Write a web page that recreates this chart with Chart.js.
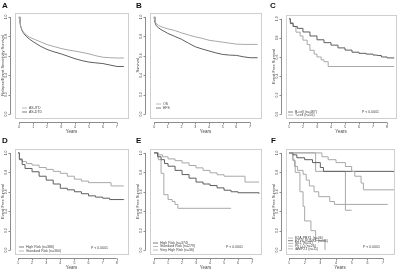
<!DOCTYPE html>
<html><head><meta charset="utf-8">
<script src="https://cdn.jsdelivr.net/npm/chart.js@4/dist/chart.umd.min.js"></script>
<style>
html,body{margin:0;padding:0;background:#fff;}
body{width:400px;height:269px;overflow:hidden;position:relative;}
.p{position:absolute;}
canvas{display:block;}
</style></head><body>
<div class="p" style="left:0;top:0"><canvas id="cA" width="133" height="134"></canvas></div>
<div class="p" style="left:133px;top:0"><canvas id="cB" width="133" height="134"></canvas></div>
<div class="p" style="left:266px;top:0"><canvas id="cC" width="134" height="134"></canvas></div>
<div class="p" style="left:0;top:134px"><canvas id="cD" width="133" height="135"></canvas></div>
<div class="p" style="left:133px;top:134px"><canvas id="cE" width="133" height="135"></canvas></div>
<div class="p" style="left:266px;top:134px"><canvas id="cF" width="134" height="135"></canvas></div>
<script>
// ---------- tick labels ----------
const survivalTicks = [0, 0.2, 0.4, 0.6, 0.8, 1.0];
const survivalTickLabels = ['0.0', '0.2', '0.4', '0.6', '0.8', '1.0'];
const yearTicks0to7 = [0, 1, 2, 3, 4, 5, 6, 7];
const yearTicks1to8 = [1, 2, 3, 4, 5, 6, 7, 8];
const yearTicks1to7 = [1, 2, 3, 4, 5, 6, 7];

// ---------- Panel A ----------
const aLabels = ['AS-ITD', 'AS-DTD'];
const aYearsUpper = [0, 0.05, 0.1, 0.2, 0.3, 0.5, 0.75, 1, 1.5, 2, 2.5, 3, 3.5, 4, 4.5, 5, 5.5, 6, 6.5, 7, 7.5];
const aSurvUpper  = [1.0, 0.95, 0.91, 0.87, 0.845, 0.815, 0.79, 0.775, 0.745, 0.715, 0.695, 0.675, 0.66, 0.648, 0.635, 0.62, 0.60, 0.585, 0.58, 0.577, 0.577];
const aYearsLower = [0, 0.05, 0.1, 0.2, 0.3, 0.5, 0.75, 1, 1.5, 2, 2.5, 3, 3.5, 4, 4.5, 5, 5.5, 6, 6.5, 7, 7.5];
const aSurvLower  = [1.0, 0.95, 0.905, 0.86, 0.835, 0.80, 0.77, 0.745, 0.70, 0.665, 0.64, 0.62, 0.595, 0.57, 0.55, 0.535, 0.527, 0.52, 0.505, 0.49, 0.49];

// ---------- Panel B ----------
const bLabels = ['OS', 'EFS'];
const bYearsOS  = [0, 0.05, 0.15, 0.3, 0.5, 1, 1.5, 2, 2.5, 3, 3.5, 4, 4.5, 5, 5.5, 6, 6.5, 7, 7.55];
const bSurvOS   = [1.0, 0.96, 0.93, 0.915, 0.90, 0.877, 0.86, 0.836, 0.815, 0.795, 0.78, 0.76, 0.75, 0.74, 0.73, 0.72, 0.717, 0.717, 0.717];
const bYearsEFS = [0, 0.05, 0.15, 0.3, 0.5, 1, 1.5, 2, 2.5, 3, 3.5, 4, 4.5, 5, 5.5, 6, 6.5, 7, 7.55];
const bSurvEFS  = [1.0, 0.95, 0.91, 0.89, 0.87, 0.83, 0.80, 0.77, 0.73, 0.693, 0.67, 0.65, 0.63, 0.614, 0.607, 0.604, 0.59, 0.58, 0.58];

// ---------- Panel C ----------
const cLabels = ['B-cell (n=487)', 'T-cell (n=56)'];
const cYearsB = [1, 1.1, 1.3, 1.6, 2, 2.5, 3, 3.5, 4, 4.5, 5, 5.5, 6, 6.5, 7, 7.3, 7.6, 8, 8.5];
const cSurvB  = [1.0, 0.95, 0.92, 0.90, 0.862, 0.82, 0.78, 0.75, 0.724, 0.695, 0.672, 0.65, 0.638, 0.63, 0.62, 0.615, 0.60, 0.59, 0.586];
const cYearsT = [1, 1.1, 1.3, 1.5, 1.8, 2, 2.3, 2.5, 2.8, 3, 3.3, 3.5, 3.8, 8.5];
const cSurvT  = [1.0, 0.96, 0.92, 0.86, 0.82, 0.776, 0.73, 0.67, 0.63, 0.60, 0.57, 0.55, 0.50, 0.50];

// ---------- Panel D ----------
const dLabels = ['High Risk (n=386)', 'Standard Risk (n=360)'];
const dYearsHigh = [1, 1.1, 1.3, 1.5, 2, 2.5, 3, 3.5, 4, 4.5, 5, 5.5, 6, 6.5, 7, 7.5, 8.5];
const dSurvHigh  = [1.0, 0.93, 0.88, 0.84, 0.806, 0.76, 0.72, 0.68, 0.636, 0.62, 0.60, 0.58, 0.558, 0.545, 0.534, 0.52, 0.517];
const dYearsStd  = [1, 1.1, 1.3, 1.6, 2, 2.5, 3, 3.5, 4, 4.5, 5, 5.5, 6, 7.6, 8.5];
const dSurvStd   = [1.0, 0.94, 0.91, 0.89, 0.874, 0.85, 0.83, 0.81, 0.79, 0.76, 0.73, 0.71, 0.694, 0.66, 0.66];

// ---------- Panel E ----------
const eLabels = ['High Risk (n=374)', 'Standard Risk (n=279)', 'Very High Risk (n=36)'];
const eYearsHigh = [0, 0.25, 0.5, 0.75, 1, 1.5, 2, 2.5, 3, 3.5, 4, 4.5, 5, 5.5, 6, 7.5];
const eSurvHigh  = [1.0, 0.96, 0.93, 0.89, 0.863, 0.82, 0.777, 0.74, 0.70, 0.68, 0.664, 0.64, 0.616, 0.60, 0.59, 0.58];
const eYearsStd  = [0, 0.3, 0.6, 1, 1.5, 2, 2.5, 3, 3.5, 4, 4.5, 5, 6.5, 7.5];
const eSurvStd   = [1.0, 0.98, 0.96, 0.938, 0.92, 0.897, 0.87, 0.846, 0.82, 0.795, 0.775, 0.76, 0.70, 0.70];
const eYearsVery = [0, 0.3, 0.5, 0.7, 1, 1.3, 1.5, 1.7, 5.5];
const eSurvVery  = [1.0, 0.93, 0.79, 0.57, 0.52, 0.50, 0.47, 0.43, 0.43];

// ---------- Panel F ----------
const fLabels = ['E2A-PBX1 (n=46)', 'ETV6-RUNX1 (n=46)', 'MLL (n=11)', 'Ph (+) (n=26)', 'iAMP21 (n=11)'];
const fYears1 = [1, 2.7, 3.1, 3.5, 4.0, 4.6, 5.0, 5.2, 5.6, 5.75, 7.7];
const fSurv1  = [1.0, 1.0, 0.96, 0.93, 0.90, 0.86, 0.81, 0.76, 0.69, 0.62, 0.62];
const fYears2 = [1, 1.25, 1.5, 2.0, 2.5, 3.0, 3.2, 7.7];
const fSurv2  = [1.0, 0.98, 0.95, 0.93, 0.90, 0.85, 0.81, 0.81];
const fYears3 = [1, 1.25, 1.35, 1.55, 1.9, 2.1, 2.3, 2.6, 2.9, 3.6, 3.9, 7.3];
const fSurv3  = [1.0, 0.93, 0.86, 0.82, 0.78, 0.72, 0.66, 0.60, 0.55, 0.50, 0.47, 0.47];
const fYears4 = [1, 1.25, 1.4, 1.7, 1.9, 2.0, 2.4, 2.7, 3.3];
const fSurv4  = [1.0, 0.92, 0.80, 0.60, 0.45, 0.30, 0.20, 0.10, 0.0];
const fYears5 = [1, 2.7, 4.6, 5.0];
const fSurv5  = [1.0, 0.81, 0.41, 0.41];

const DARK = '#5e5e5e', LIGHT = '#a8a8a8';
const FONT = '"Liberation Sans", Arial, sans-serif';

function pts(xs, ys) { return xs.map((x, i) => ({ x: x, y: ys[i] })); }

const rStyle = {
  id: 'rStyle',
  afterDraw(chart, args, o) {
    const ctx = chart.ctx, a = chart.chartArea, xs = chart.scales.x, ys = chart.scales.y;
    ctx.save();
    // plot box
    ctx.strokeStyle = '#cfcfcf'; ctx.lineWidth = 1;
    ctx.strokeRect(Math.round(a.left) + 0.5, Math.round(a.top) + 0.5, Math.round(a.right - a.left), Math.round(a.bottom - a.top));
    // x axis
    const xt = o.xTicks;
    const ay = Math.round(a.bottom) + 4.5;
    ctx.strokeStyle = '#8c8c8c';
    ctx.beginPath();
    ctx.moveTo(xs.getPixelForValue(xt[0]), ay);
    ctx.lineTo(xs.getPixelForValue(xt[xt.length - 1]), ay);
    xt.forEach(v => { const px = Math.round(xs.getPixelForValue(v)) + 0.5; ctx.moveTo(px, ay); ctx.lineTo(px, ay + 2); });
    ctx.stroke();
    ctx.fillStyle = '#444';
    ctx.font = '3.5px ' + FONT; ctx.textAlign = 'center'; ctx.textBaseline = 'middle';
    xt.forEach(v => ctx.fillText(String(v), xs.getPixelForValue(v), ay + 4.5));
    ctx.font = '4.5px ' + FONT;
    ctx.fillText('Years', (a.left + a.right) / 2, ay + 9.5);
    // y axis
    const ax = Math.round(a.left) - 4.5;
    ctx.beginPath();
    ctx.moveTo(ax, ys.getPixelForValue(survivalTicks[0]));
    ctx.lineTo(ax, ys.getPixelForValue(survivalTicks[survivalTicks.length - 1]));
    survivalTicks.forEach(v => { const py = Math.round(ys.getPixelForValue(v)) + 0.5; ctx.moveTo(ax, py); ctx.lineTo(ax - 2, py); });
    ctx.stroke();
    ctx.font = '3.5px ' + FONT;
    survivalTicks.forEach((v, i) => {
      ctx.save();
      ctx.translate(ax - 4, ys.getPixelForValue(v));
      ctx.rotate(-Math.PI / 2);
      ctx.fillText(survivalTickLabels[i], 0, 0);
      ctx.restore();
    });
    ctx.save();
    ctx.font = '4px ' + FONT;
    ctx.translate(o.yTitleX, (ys.getPixelForValue(0) + ys.getPixelForValue(1)) / 2);
    ctx.rotate(-Math.PI / 2);
    ctx.fillText(o.yTitle, 0, 0);
    ctx.restore();
    // panel letter
    ctx.font = 'bold 8px ' + FONT; ctx.textAlign = 'left'; ctx.textBaseline = 'top';
    ctx.fillStyle = '#111';
    ctx.fillText(o.letter, o.letterX, o.letterY);
    // legend
    const L = o.legend;
    ctx.font = '3.5px ' + FONT; ctx.textBaseline = 'middle';
    chart.data.datasets.forEach((ds, i) => {
      const y = L.rows[i];
      ctx.strokeStyle = ds.borderColor; ctx.lineWidth = 0.8;
      ctx.beginPath(); ctx.moveTo(L.x, y); ctx.lineTo(L.x + 5, y); ctx.stroke();
      ctx.fillStyle = '#444';
      ctx.fillText(ds.label, L.x + 7, y);
    });
    if (o.pText) {
      ctx.fillText(o.pText, o.pX, o.pY);
    }
    ctx.restore();
  }
};

function makeChart(id, cfg) {
  const datasets = cfg.series.map(s => ({
    label: s.label, data: s.data, borderColor: s.color, borderWidth: 1,
    pointRadius: 0, fill: false, tension: 0, stepped: cfg.stepped ? 'before' : false
  }));
  return new Chart(document.getElementById(id), {
    type: 'line',
    data: { datasets: datasets },
    options: {
      responsive: false, animation: false,
      layout: { padding: cfg.pad },
      scales: {
        x: { type: 'linear', display: false, min: cfg.xmin, max: cfg.xmax },
        y: { type: 'linear', display: false, min: -0.04, max: 1.04 }
      },
      plugins: {
        legend: { display: false }, tooltip: { enabled: false },
        rStyle: {
          xTicks: cfg.xTicks, yTitle: cfg.yTitle, yTitleX: cfg.pad.left - 12, letter: cfg.letter,
          letterX: cfg.letterPos[0], letterY: cfg.letterPos[1],
          legend: cfg.legend, pText: cfg.pText, pX: cfg.pPos ? cfg.pPos[0] : 0, pY: cfg.pPos ? cfg.pPos[1] : 0
        }
      }
    },
    plugins: [rStyle]
  });
}

makeChart('cA', {
  letter: 'A', letterPos: [2, 2], yTitle: 'Relapse/Event Sensitivity Survival',
  pad: { left: 15, right: 5, top: 13, bottom: 16 }, xmin: -0.3, xmax: 7.8, xTicks: yearTicks0to7, stepped: false,
  series: [
    { label: aLabels[0], data: pts(aYearsUpper, aSurvUpper), color: LIGHT },
    { label: aLabels[1], data: pts(aYearsLower, aSurvLower), color: DARK }
  ],
  legend: { x: 22, rows: [108, 112] }
});
makeChart('cB', {
  letter: 'B', letterPos: [3, 2], yTitle: 'Survival',
  pad: { left: 17, right: 5, top: 13, bottom: 16 }, xmin: -0.3, xmax: 7.8, xTicks: yearTicks0to7, stepped: false,
  series: [
    { label: bLabels[0], data: pts(bYearsOS, bSurvOS), color: LIGHT },
    { label: bLabels[1], data: pts(bYearsEFS, bSurvEFS), color: DARK }
  ],
  legend: { x: 23, rows: [104, 108] }
});
makeChart('cC', {
  letter: 'C', letterPos: [4, 2], yTitle: 'Event Free Survival',
  pad: { left: 20, right: 4, top: 15, bottom: 16 }, xmin: 0.79, xmax: 8.64, xTicks: yearTicks1to8, stepped: true,
  series: [
    { label: cLabels[0], data: pts(cYearsB, cSurvB), color: DARK },
    { label: cLabels[1], data: pts(cYearsT, cSurvT), color: LIGHT }
  ],
  legend: { x: 22, rows: [112, 115] },
  pText: 'P < 0.0001', pPos: [96, 112]
});
makeChart('cD', {
  letter: 'D', letterPos: [2, 3], yTitle: 'Event Free Survival',
  pad: { left: 15, right: 5, top: 15, bottom: 15 }, xmin: 0.79, xmax: 8.8, xTicks: yearTicks1to8, stepped: true,
  series: [
    { label: dLabels[0], data: pts(dYearsHigh, dSurvHigh), color: DARK },
    { label: dLabels[1], data: pts(dYearsStd, dSurvStd), color: LIGHT }
  ],
  legend: { x: 19, rows: [113, 117] },
  pText: 'P < 0.0001', pPos: [91, 114]
});
makeChart('cE', {
  letter: 'E', letterPos: [3, 3], yTitle: 'Event Free Survival',
  pad: { left: 17, right: 5, top: 15, bottom: 15 }, xmin: -0.29, xmax: 7.64, xTicks: yearTicks0to7, stepped: true,
  series: [
    { label: eLabels[0], data: pts(eYearsHigh, eSurvHigh), color: DARK },
    { label: eLabels[1], data: pts(eYearsStd, eSurvStd), color: LIGHT },
    { label: eLabels[2], data: pts(eYearsVery, eSurvVery), color: LIGHT }
  ],
  legend: { x: 20, rows: [109, 112.5, 116] },
  pText: 'P < 0.0001', pPos: [93, 113]
});
makeChart('cF', {
  letter: 'F', letterPos: [5, 3], yTitle: 'Event Free Survival',
  pad: { left: 20, right: 6, top: 15, bottom: 15 }, xmin: 0.81, xmax: 7.7, xTicks: yearTicks1to7, stepped: true,
  series: [
    { label: fLabels[0], data: pts(fYears1, fSurv1), color: LIGHT },
    { label: fLabels[1], data: pts(fYears2, fSurv2), color: DARK },
    { label: fLabels[2], data: pts(fYears3, fSurv3), color: LIGHT },
    { label: fLabels[3], data: pts(fYears4, fSurv4), color: LIGHT },
    { label: fLabels[4], data: pts(fYears5, fSurv5), color: LIGHT }
  ],
  legend: { x: 22, rows: [104, 106.7, 109.4, 112.1, 114.8] },
  pText: 'P < 0.0001', pPos: [97, 113]
});
</script>
</body></html>
